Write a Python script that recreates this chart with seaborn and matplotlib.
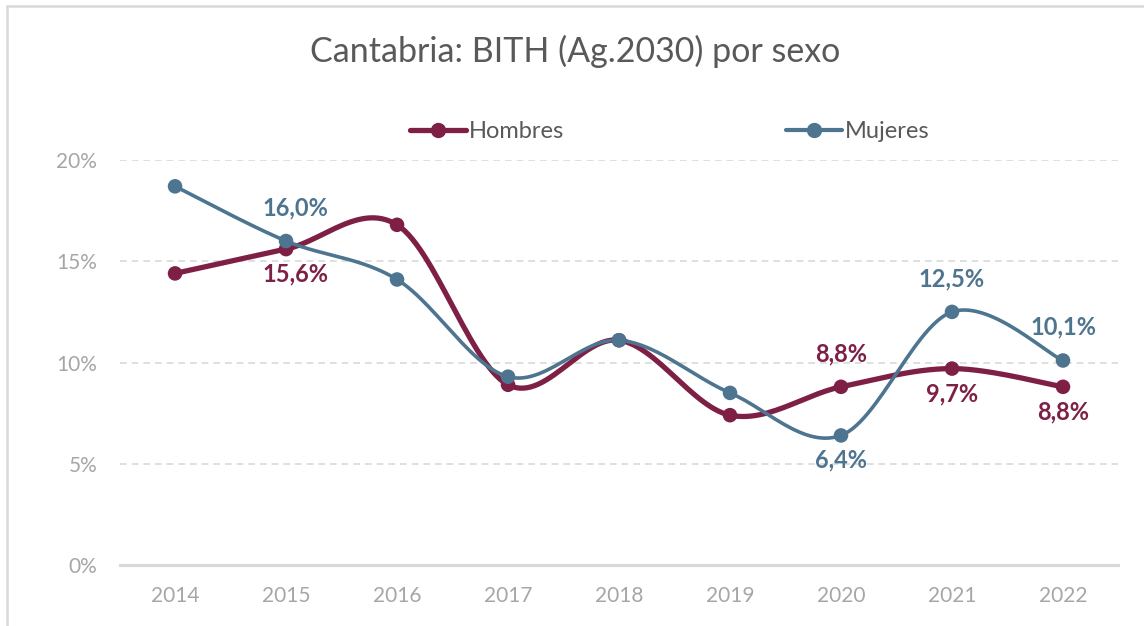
import numpy as np
import pandas as pd
import seaborn as sns
import matplotlib
matplotlib.use("Agg")
from matplotlib import pyplot as plt
from matplotlib.lines import Line2D

# Data
years = ["2014", "2015", "2016", "2017", "2018", "2019", "2020", "2021", "2022"]
hombres = [14.4, 15.6, 16.8, 8.9, 11.1, 7.4, 8.8, 9.7, 8.8]
mujeres = [18.7, 16.0, 14.1, 9.3, 11.1, 8.5, 6.4, 12.5, 10.1]

# which points carry a data label: (index, 'above'/'below')
labels_h = [(1, "below"), (6, "above"), (7, "below"), (8, "below")]
labels_m = [(1, "above"), (6, "below"), (7, "above"), (8, "above")]

C_H = "#7E2046"
C_M = "#4E7590"
GREY_TXT = "#595959"
GRID = "#D9D9D9"

df = pd.DataFrame({
    "year": years * 2,
    "pos": list(range(len(years))) * 2,
    "value": hombres + mujeres,
    "sexo": ["Hombres"] * len(years) + ["Mujeres"] * len(years),
})


def smooth(y, n=30):
    # Excel-like smoothed line (Catmull-Rom bezier through the points)
    x = np.arange(len(y), dtype=float)
    y = np.asarray(y, dtype=float)
    pts = np.column_stack([x, y])
    out = []
    for i in range(len(pts) - 1):
        p0 = pts[i - 1] if i > 0 else pts[i]
        p1 = pts[i]
        p2 = pts[i + 1]
        p3 = pts[i + 2] if i + 2 < len(pts) else pts[i + 1]
        c1 = p1 + (p2 - p0) / 6
        c2 = p2 - (p3 - p1) / 6
        t = np.linspace(0, 1, n)[:, None]
        seg = (1 - t) ** 3 * p1 + 3 * (1 - t) ** 2 * t * c1 + 3 * (1 - t) * t ** 2 * c2 + t ** 3 * p2
        out.append(seg if i == 0 else seg[1:])
    out = np.vstack(out)
    return out[:, 0], out[:, 1]


sns.set_style("white")
plt.rcParams["font.family"] = ["Lato", "DejaVu Sans"]

fig = plt.figure(figsize=(11.44, 6.26), dpi=100)
ax = fig.add_axes([0.1045, 0.0974, 0.8732, 0.647])

# lines
xs, ys = smooth(mujeres)
ax.plot(xs, ys, color=C_M, lw=2.6, solid_capstyle="round", zorder=3)
xs, ys = smooth(hombres)
ax.plot(xs, ys, color=C_H, lw=3.8, solid_capstyle="round", zorder=2)

# markers
sns.scatterplot(data=df, x="pos", y="value", hue="sexo",
                palette={"Hombres": C_H, "Mujeres": C_M},
                s=110, edgecolor="none", legend=False, ax=ax, zorder=4)

# data labels
for vals, labs, col in [(hombres, labels_h, C_H), (mujeres, labels_m, C_M)]:
    for i, where in labs:
        off = 24 if where == "above" else -18
        dx = 7 if i == 1 else 0
        ax.annotate(f"{vals[i]:.1f}%".replace(".", ","), (i, vals[i]),
                    xytext=(dx, off), textcoords="offset points",
                    ha="center", va="center", fontsize=17, fontweight="bold",
                    color=col, zorder=5)

ax.set_xlim(-0.5, len(years) - 0.5)
ax.set_ylim(0, 20)
ax.set_xticks(range(len(years)))
ax.set_xticklabels(years)
ax.set_yticks([0, 5, 10, 15, 20])
ax.set_yticklabels([f"{v}%" for v in [0, 5, 10, 15, 20]])
ax.tick_params(axis="both", length=0, labelsize=15, labelcolor="#A6A6A6")
ax.tick_params(axis="x", pad=15)
ax.tick_params(axis="y", pad=16)
ax.set_xlabel("")
ax.set_ylabel("")

for v in [5, 10, 15, 20]:
    ax.axhline(v, color=GRID, lw=1.2, ls=(0, (4, 3)), zorder=1)
for s in ["top", "right", "left"]:
    ax.spines[s].set_visible(False)
ax.spines["bottom"].set_color(GRID)
ax.spines["bottom"].set_linewidth(2.2)

# legend
handles = [Line2D([], [], color=C_H, lw=3.8, marker="o", markersize=10),
           Line2D([], [], color=C_M, lw=3.0, marker="o", markersize=10)]
fig.legend(handles, ["Hombres", "Mujeres"], loc="center",
           bbox_to_anchor=(670 / 1144, 1 - 132 / 626), ncol=2, frameon=False,
           fontsize=17, handlelength=2.35, handletextpad=0.15, columnspacing=9.4,
           labelcolor=GREY_TXT)

fig.text(575 / 1144, 1 - 51 / 626, "Cantabria: BITH (Ag.2030) por sexo",
         ha="center", va="center", fontsize=24.5, color=GREY_TXT)

# chart border
fig.add_artist(Line2D([7 / 1144, 1.0], [1 - 6 / 626] * 2, color=GRID, lw=1.8))
fig.add_artist(Line2D([7 / 1144] * 2, [0, 1 - 6 / 626], color=GRID, lw=1.8))

fig.savefig("out.png", dpi=100)
